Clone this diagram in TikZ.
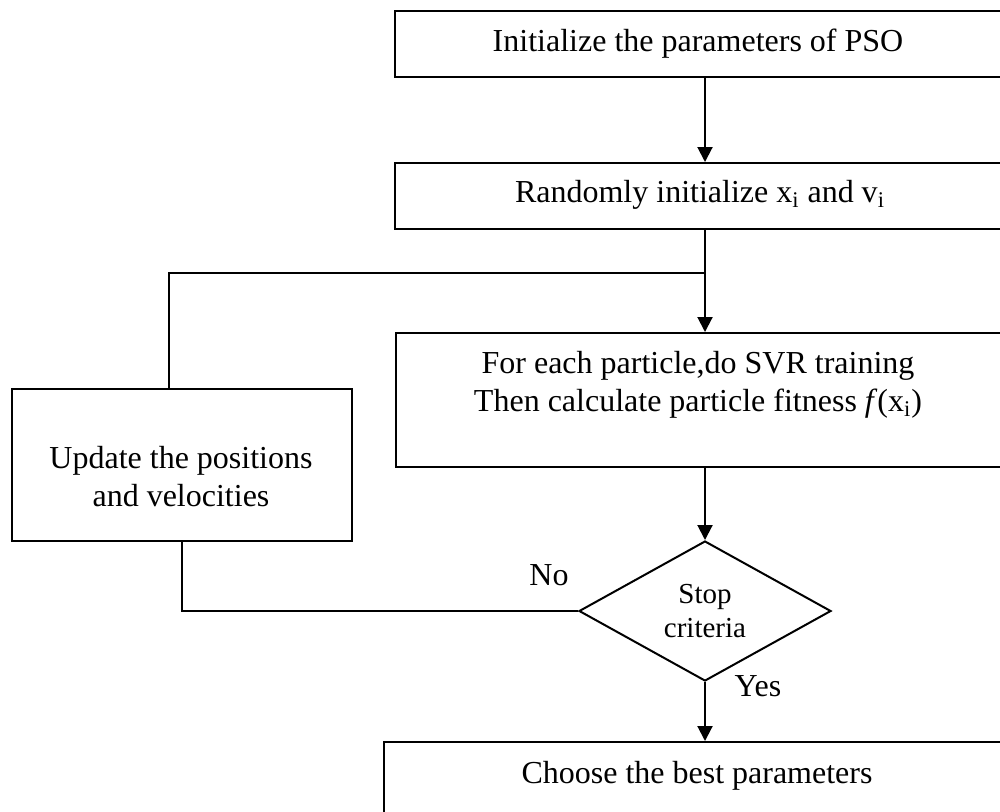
\documentclass[tikz,border=0pt]{standalone}
\usepackage{fontspec}
\setmainfont{Liberation Serif}
\usetikzlibrary{shapes.geometric,arrows.meta,positioning}
\begin{document}
\begin{tikzpicture}[x=0.5pt,y=-0.5pt,
  every node/.style={font=\fontsize{16}{19}\selectfont},
  procbox/.style={draw,line width=1pt,rectangle,inner sep=0pt,anchor=north west},
  txt/.style={inner sep=0pt,align=center},
  decision/.style={draw,line width=1pt,diamond,inner sep=0pt,minimum width=126pt,minimum height=70pt,align=center,font=\fontsize{14.5}{17}\selectfont},
  flow/.style={line width=1pt,-{Triangle[length=7.5pt,width=7.5pt]}},
  loopline/.style={line width=1pt}]
\useasboundingbox (0,0) rectangle (1000,811);
\fill[white] (0,0) rectangle (1000,811);

% boxes
\node[procbox,minimum width=311pt,minimum height=33pt] (b1) at (394,10) {};
\node[txt] (b1t) at (698,44) {Initialize the parameters of PSO};

\node[procbox,minimum width=311pt,minimum height=33pt] (b2) at (394,162) {};
\node[txt] (b2t) at (700,195) {Randomly initialize x\textsubscript{i} and v\textsubscript{i}};

\node[procbox,minimum width=311pt,minimum height=67pt] (b3) at (395,332) {};
\node[txt] (b3t) at (698,385) {For each particle,do SVR training\\Then calculate particle fitness \textit{f}(x\textsubscript{i})};

\node[procbox,minimum width=170pt,minimum height=76pt] (upd) at (11,388) {};
\node[txt] (updt) at (181,477) {Update the positions\\and velocities};

\node[decision] (dec) at (705,611) {Stop\\criteria};

\node[procbox,minimum width=320pt,minimum height=45pt] (best) at (383,741) {};
\node[txt] (bestt) at (697,776) {Choose the best parameters};

% labels
\node[txt] (no) at (549,575) {No};
\node[txt] (yes) at (758,686) {Yes};

% spine coordinates
\coordinate (sp) at (705,0);
\coordinate (j) at (705,273);
\coordinate (lx) at (169,0);

% connectors
\draw[flow] (b1.south -| sp) -- (b2.north -| sp);
\draw[flow] (b2.south -| sp) -- (b3.north -| sp);
\draw[flow] (b3.south -| sp) -- (dec.north);
\draw[flow] (dec.south) -- (best.north -| sp);
\draw[loopline] (upd.north -| lx) |- (j);
\draw[loopline] (dec.west) -| (upd.south);
\end{tikzpicture}
\end{document}
